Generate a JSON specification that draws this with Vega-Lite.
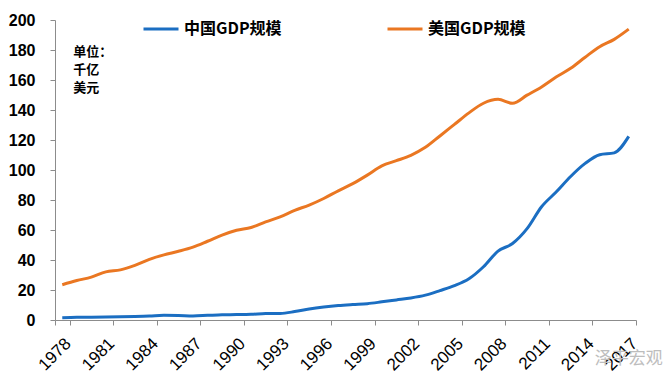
{
  "$schema": "https://vega.github.io/schema/vega-lite/v6.json",
  "autosize": {"type": "none"},
  "width": 581,
  "height": 300,
  "padding": {"left": 55, "top": 20, "right": 28, "bottom": 58},
  "background": "white",
  "config": {
    "view": {"stroke": null},
    "font": "Liberation Sans",
    "axis": {"labelOverlap": false, "grid": false, "title": null, "domainColor": "#8c8c8c", "tickColor": "#8c8c8c", "tickSize": 5, "labelColor": "#000000", "labelFont": "Liberation Sans"},
    "axisY": {"labelFontSize": 16, "labelFontWeight": "bold", "labelPadding": 15, "tickCount": 11, "labelOverlap": false},
    "axisX": {"labelFontSize": 17, "labelAngle": -45, "labelPadding": 10}
  },
  "layer": [
    {
      "data": {"values": [
        {"year":1978,"series":"中国GDP规模","gdp":1.5},{"year":1979,"series":"中国GDP规模","gdp":1.8},{"year":1980,"series":"中国GDP规模","gdp":1.9},{"year":1981,"series":"中国GDP规模","gdp":2.0},{"year":1982,"series":"中国GDP规模","gdp":2.1},{"year":1983,"series":"中国GDP规模","gdp":2.3},{"year":1984,"series":"中国GDP规模","gdp":2.6},{"year":1985,"series":"中国GDP规模","gdp":3.1},{"year":1986,"series":"中国GDP规模","gdp":3.0},{"year":1987,"series":"中国GDP规模","gdp":2.7},{"year":1988,"series":"中国GDP规模","gdp":3.1},{"year":1989,"series":"中国GDP规模","gdp":3.5},{"year":1990,"series":"中国GDP规模","gdp":3.6},{"year":1991,"series":"中国GDP规模","gdp":3.8},{"year":1992,"series":"中国GDP规模","gdp":4.3},{"year":1993,"series":"中国GDP规模","gdp":4.4},{"year":1994,"series":"中国GDP规模","gdp":5.6},{"year":1995,"series":"中国GDP规模","gdp":7.3},{"year":1996,"series":"中国GDP规模","gdp":8.6},{"year":1997,"series":"中国GDP规模","gdp":9.6},{"year":1998,"series":"中国GDP规模","gdp":10.3},{"year":1999,"series":"中国GDP规模","gdp":10.9},{"year":2000,"series":"中国GDP规模","gdp":12.1},{"year":2001,"series":"中国GDP规模","gdp":13.4},{"year":2002,"series":"中国GDP规模","gdp":14.7},{"year":2003,"series":"中国GDP规模","gdp":16.6},{"year":2004,"series":"中国GDP规模","gdp":19.6},{"year":2005,"series":"中国GDP规模","gdp":22.9},{"year":2006,"series":"中国GDP规模","gdp":27.5},{"year":2007,"series":"中国GDP规模","gdp":35.5},{"year":2008,"series":"中国GDP规模","gdp":45.9},{"year":2009,"series":"中国GDP规模","gdp":51.0},{"year":2010,"series":"中国GDP规模","gdp":60.9},{"year":2011,"series":"中国GDP规模","gdp":75.5},{"year":2012,"series":"中国GDP规模","gdp":85.3},{"year":2013,"series":"中国GDP规模","gdp":95.7},{"year":2014,"series":"中国GDP规模","gdp":104.4},{"year":2015,"series":"中国GDP规模","gdp":110.2},{"year":2016,"series":"中国GDP规模","gdp":111.4},{"year":2017,"series":"中国GDP规模","gdp":122.4},
        {"year":1978,"series":"美国GDP规模","gdp":23.5},{"year":1979,"series":"美国GDP规模","gdp":26.3},{"year":1980,"series":"美国GDP规模","gdp":28.6},{"year":1981,"series":"美国GDP规模","gdp":32.1},{"year":1982,"series":"美国GDP规模","gdp":33.4},{"year":1983,"series":"美国GDP规模","gdp":36.4},{"year":1984,"series":"美国GDP规模","gdp":40.4},{"year":1985,"series":"美国GDP规模","gdp":43.4},{"year":1986,"series":"美国GDP规模","gdp":45.8},{"year":1987,"series":"美国GDP规模","gdp":48.6},{"year":1988,"series":"美国GDP规模","gdp":52.5},{"year":1989,"series":"美国GDP规模","gdp":56.6},{"year":1990,"series":"美国GDP规模","gdp":59.8},{"year":1991,"series":"美国GDP规模","gdp":61.7},{"year":1992,"series":"美国GDP规模","gdp":65.4},{"year":1993,"series":"美国GDP规模","gdp":68.8},{"year":1994,"series":"美国GDP规模","gdp":73.1},{"year":1995,"series":"美国GDP规模","gdp":76.6},{"year":1996,"series":"美国GDP规模","gdp":81.0},{"year":1997,"series":"美国GDP规模","gdp":86.1},{"year":1998,"series":"美国GDP规模","gdp":90.9},{"year":1999,"series":"美国GDP规模","gdp":96.6},{"year":2000,"series":"美国GDP规模","gdp":102.8},{"year":2001,"series":"美国GDP规模","gdp":106.2},{"year":2002,"series":"美国GDP规模","gdp":109.8},{"year":2003,"series":"美国GDP规模","gdp":115.1},{"year":2004,"series":"美国GDP规模","gdp":122.7},{"year":2005,"series":"美国GDP规模","gdp":130.4},{"year":2006,"series":"美国GDP规模","gdp":138.1},{"year":2007,"series":"美国GDP规模","gdp":144.5},{"year":2008,"series":"美国GDP规模","gdp":147.1},{"year":2009,"series":"美国GDP规模","gdp":144.5},{"year":2010,"series":"美国GDP规模","gdp":149.9},{"year":2011,"series":"美国GDP规模","gdp":155.4},{"year":2012,"series":"美国GDP规模","gdp":162.0},{"year":2013,"series":"美国GDP规模","gdp":167.8},{"year":2014,"series":"美国GDP规模","gdp":175.2},{"year":2015,"series":"美国GDP规模","gdp":182.2},{"year":2016,"series":"美国GDP规模","gdp":187.1},{"year":2017,"series":"美国GDP规模","gdp":193.9}
      ]},
      "mark": {"type": "line", "interpolate": "monotone", "strokeWidth": 3},
      "encoding": {
        "x": {
          "field": "year", "type": "ordinal",
          "scale": {"type": "band", "paddingInner": 0, "paddingOuter": 0},
          "axis": {
            "values": [1978,1981,1984,1987,1990,1993,1996,1999,2002,2005,2008,2011,2014,2017],
            "tickBand": "extent",
            "labelAngle": -45,
            "labelOverlap": false
          }
        },
        "y": {
          "field": "gdp", "type": "quantitative",
          "scale": {"domain": [0, 200], "nice": false},
          "axis": {
            "values": [0,20,40,60,80,100,120,140,160,180,200],
            "labelOverlap": false
          }
        },
        "color": {
          "field": "series", "type": "nominal",
          "scale": {"domain": ["中国GDP规模", "美国GDP规模"], "range": ["#1b6ec2", "#ea7722"]},
          "legend": {
            "orient": "none",
            "legendX": 87,
            "legendY": -10,
            "direction": "horizontal",
            "title": null,
            "symbolType": "stroke",
            "symbolSize": 1225,
            "symbolStrokeWidth": 3,
            "labelFontSize": 16,
            "labelFont": "Noto Sans CJK SC",
            "labelFontWeight": "bold",
            "labelColor": "#000000",
            "labelOffset": 4,
            "labelLimit": 200,
            "columnPadding": 99,
            "padding": 0
          }
        }
      }
    },
    {
      "data": {"values": [{"note": "单位：\n千亿\n美元"}]},
      "mark": {"type": "text", "align": "left", "baseline": "middle", "lineBreak": "\n", "lineHeight": 18, "font": "Noto Sans CJK SC", "fontSize": 13, "fontWeight": "bold", "color": "#000000", "dx": 11},
      "encoding": {
        "x": {"datum": 1978, "type": "ordinal"},
        "y": {"datum": 179, "type": "quantitative"},
        "text": {"field": "note"}
      }
    },
    {
      "data": {"values": [{"wm": "泽平宏观"}]},
      "mark": {"type": "text", "align": "center", "baseline": "middle", "font": "Noto Sans CJK SC", "fontSize": 17, "color": "#bdbdbd"},
      "encoding": {
        "x": {"datum": 2017, "type": "ordinal"},
        "y": {"datum": -26, "type": "quantitative"},
        "text": {"field": "wm"}
      }
    }
  ]
}
